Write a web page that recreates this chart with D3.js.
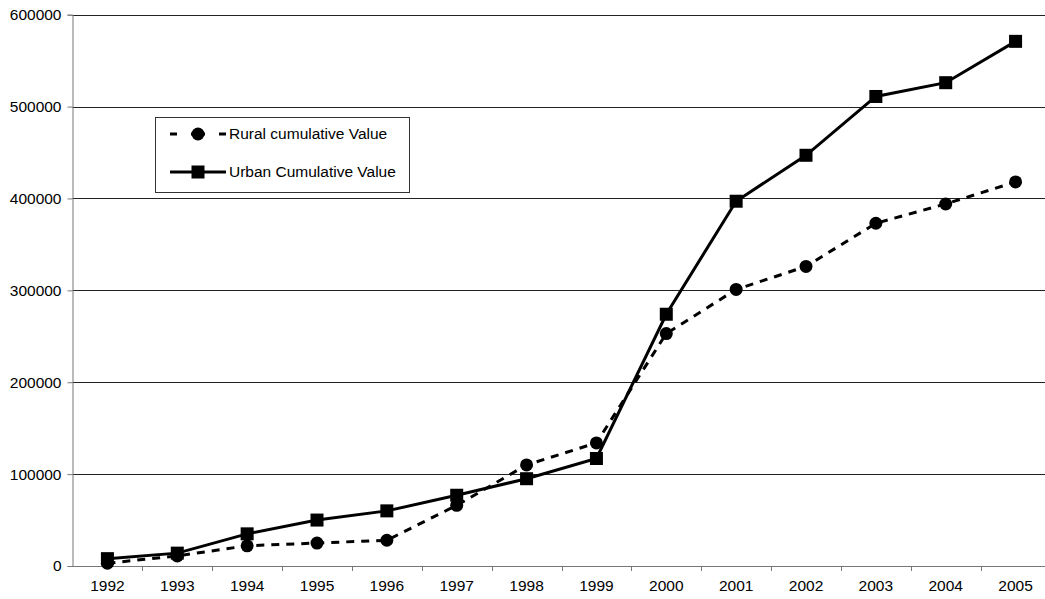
<!DOCTYPE html>
<html>
<head>
<meta charset="utf-8">
<script src="https://cdn.jsdelivr.net/npm/d3@7"></script>
<style>
  html, body { margin: 0; padding: 0; background: #fff; }
  svg { display: block; font-family: "Liberation Sans", Arial, sans-serif; }
</style>
</head>
<body>
<svg id="chart" width="1045" height="599"></svg>
<script>
const years = ["1992","1993","1994","1995","1996","1997","1998","1999","2000","2001","2002","2003","2004","2005"];
const ruralValues = [3000, 11000, 22000, 25000, 28000, 66000, 110000, 134000, 253000, 301000, 326000, 373000, 394000, 418000];
const urbanValues = [8000, 14000, 35000, 50000, 60000, 77000, 95000, 117000, 274000, 397000, 447000, 511000, 526000, 571000];
const yTicks = [0, 100000, 200000, 300000, 400000, 500000, 600000];
const seriesNames = ["Rural cumulative Value", "Urban Cumulative Value"];

(function () {
const svg = d3.select("#chart");
const pLeft = 72.5, pRight = 1050.5, pTop = 14.7, pBottom = 566;

const x = d3.scaleBand().domain(years).range([pLeft, pRight]).padding(0);
const y = d3.scaleLinear().domain([0, 600000]).range([pBottom, pTop]);

// gridlines
svg.append("g")
  .selectAll("line")
  .data(yTicks.filter(d => d > 0))
  .join("line")
  .attr("x1", pLeft).attr("x2", pRight)
  .attr("y1", d => Math.round(y(d)) + 0.5).attr("y2", d => Math.round(y(d)) + 0.5)
  .attr("stroke", "#222").attr("stroke-width", 1);

// y axis
const yAxis = svg.append("g")
  .attr("transform", `translate(${pLeft},0)`)
  .call(d3.axisLeft(y).tickValues(yTicks).tickSize(5).tickPadding(6).tickFormat(d3.format("d")));
yAxis.select(".domain").attr("stroke", "#777");
yAxis.selectAll(".tick line").attr("stroke", "#777");
yAxis.selectAll("text").attr("font-size", 15.5).attr("fill", "#000")
  .attr("font-family", "Liberation Sans, Arial, sans-serif");

// x axis
const xAxis = svg.append("g")
  .attr("transform", `translate(0,${pBottom})`)
  .call(d3.axisBottom(x).tickSize(0).tickPadding(14));
xAxis.select(".domain").attr("stroke", "#777").attr("d", `M${pLeft},0.5H${pRight}`);
xAxis.selectAll("text").attr("font-size", 15.5).attr("fill", "#000")
  .attr("font-family", "Liberation Sans, Arial, sans-serif");
// category boundary ticks
svg.append("g")
  .selectAll("line")
  .data(years.slice(1))
  .join("line")
  .attr("x1", d => Math.round(x(d)) + 0.5).attr("x2", d => Math.round(x(d)) + 0.5)
  .attr("y1", pBottom).attr("y2", pBottom + 5)
  .attr("stroke", "#777");

const cx = d => x(d) + x.bandwidth() / 2;
const line = d3.line().x(d => cx(d.year)).y(d => y(d.value));

const rural = years.map((yr, i) => ({ year: yr, value: ruralValues[i] }));
const urban = years.map((yr, i) => ({ year: yr, value: urbanValues[i] }));

// Rural series (dashed, circles)
svg.append("path").datum(rural)
  .attr("d", line).attr("fill", "none").attr("stroke", "#000")
  .attr("stroke-width", 3).attr("stroke-dasharray", "8,7");
svg.append("g").selectAll("circle").data(rural).join("circle")
  .attr("cx", d => cx(d.year)).attr("cy", d => y(d.value)).attr("r", 6.5).attr("fill", "#000");

// Urban series (solid, squares)
svg.append("path").datum(urban)
  .attr("d", line).attr("fill", "none").attr("stroke", "#000")
  .attr("stroke-width", 3);
svg.append("g").selectAll("rect").data(urban).join("rect")
  .attr("x", d => cx(d.year) - 6.5).attr("y", d => y(d.value) - 6.5)
  .attr("width", 13).attr("height", 13).attr("fill", "#000");

// Legend
const lg = svg.append("g");
lg.append("rect").attr("x", 155.5).attr("y", 117.5).attr("width", 254).attr("height", 75)
  .attr("fill", "#fff").attr("stroke", "#333").attr("stroke-width", 1);
const rowY = [134, 172];
lg.append("line").attr("x1", 170).attr("x2", 226).attr("y1", rowY[0]).attr("y2", rowY[0])
  .attr("stroke", "#000").attr("stroke-width", 3).attr("stroke-dasharray", "7,14,14,14,7");
lg.append("circle").attr("cx", 198).attr("cy", rowY[0]).attr("r", 6.5).attr("fill", "#000");
lg.append("line").attr("x1", 170).attr("x2", 226).attr("y1", rowY[1]).attr("y2", rowY[1])
  .attr("stroke", "#000").attr("stroke-width", 3);
lg.append("rect").attr("x", 191.5).attr("y", rowY[1] - 6.5).attr("width", 13).attr("height", 13).attr("fill", "#000");
lg.selectAll("text.lt").data(seriesNames).join("text")
  .attr("class", "lt")
  .attr("x", 229).attr("y", (d, i) => rowY[i]).attr("dy", "0.35em")
  .attr("font-size", 15.5).attr("fill", "#000").text(d => d);
})();
</script>
</body>
</html>
